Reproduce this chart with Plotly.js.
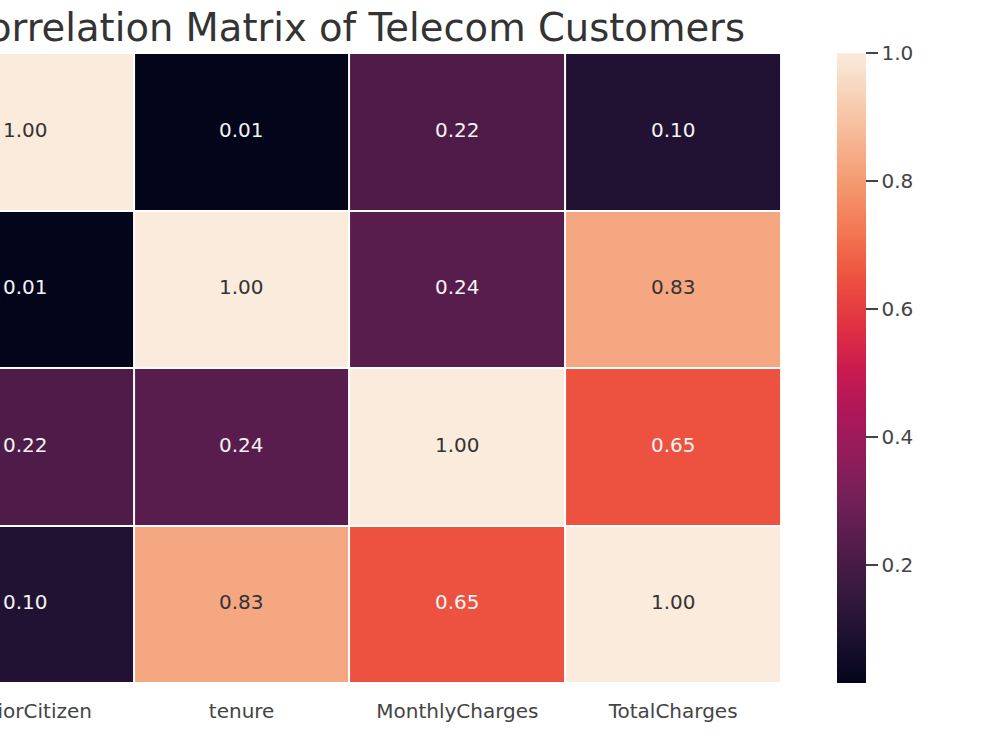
<!DOCTYPE html>
<html>
<head>
<meta charset="utf-8">
<script src="https://cdn.plot.ly/plotly-3.0.1.min.js"></script>
<style>html,body{margin:0;padding:0;background:#fff;}#chart{width:1000px;height:751px;}</style>
</head>
<body>
<div id="chart"></div>
<script>
const categories = ["SeniorCitizen", "tenure", "MonthlyCharges", "TotalCharges"];
const row0 = [1.00, 0.01, 0.22, 0.10];
const row1 = [0.01, 1.00, 0.24, 0.83];
const row2 = [0.22, 0.24, 1.00, 0.65];
const row3 = [0.10, 0.83, 0.65, 1.00];
const colorbarTicks = [0.2, 0.4, 0.6, 0.8, 1.0];
const titleText = "Correlation Matrix of Telecom Customers";

const z = [row0, row1, row2, row3];

const rocket = [
  [0.0, "#03051a"],
  [0.0714, "#1c1030"],
  [0.1429, "#35193e"],
  [0.2143, "#521c4b"],
  [0.2857, "#701f57"],
  [0.3571, "#8f1d5a"],
  [0.4286, "#ad1759"],
  [0.5, "#cb1b4f"],
  [0.5714, "#e13342"],
  [0.6429, "#ed5140"],
  [0.7143, "#f37651"],
  [0.7857, "#f4966d"],
  [0.8571, "#f6b48f"],
  [0.9286, "#f8d0b6"],
  [1.0, "#faebdd"]
];

const annotations = [];
z.forEach((row, i) => {
  row.forEach((v, j) => {
    annotations.push({
      x: categories[j], y: categories[i], xref: "x", yref: "y",
      text: v.toFixed(2), showarrow: false, yshift: 2,
      font: {family: "DejaVu Sans", size: 20, color: v > 0.75 ? "#333333" : "#f4f4f4"}
    });
  });
});

const trace = {
  type: "heatmap",
  x: categories,
  y: categories,
  z: z,
  colorscale: rocket,
  zmin: 0.016,
  zmax: 1.0,
  xgap: 2,
  ygap: 2,
  hoverinfo: "skip",
  colorbar: {
    x: 837/781, xanchor: "left", xref: "paper",
    y: 0.5, yanchor: "middle", len: 1, lenmode: "fraction",
    thickness: 29, thicknessmode: "pixels",
    xpad: 0, ypad: 0, outlinewidth: 0,
    tickvals: colorbarTicks, ticktext: colorbarTicks.map(v => v.toFixed(1)),
    ticks: "outside", ticklen: 12, tickwidth: 1.5, tickcolor: "#444444",
    tickfont: {family: "DejaVu Sans", size: 20, color: "#444444"}
  }
};

const layout = {
  width: 1000, height: 751,
  margin: {l: 0, r: 219, t: 53, b: 68, pad: 0},
  paper_bgcolor: "#ffffff", plot_bgcolor: "#ffffff",
  title: {
    text: titleText,
    font: {family: "DejaVu Sans", size: 38.5, color: "#333333"},
    x: 353/781, xref: "paper", xanchor: "center",
    y: 1 - 28/751, yref: "container", yanchor: "middle"
  },
  xaxis: {
    type: "category",
    range: [-0.12, 3.5],
    showgrid: false, zeroline: false, showline: false, ticks: "",
    ticklabelstandoff: 14,
    tickfont: {family: "DejaVu Sans", size: 20, color: "#444444"},
    fixedrange: true
  },
  yaxis: {
    type: "category",
    autorange: "reversed",
    showgrid: false, zeroline: false, showline: false, ticks: "",
    showticklabels: false, fixedrange: true
  },
  annotations: annotations,
  showlegend: false
};

Plotly.newPlot("chart", [trace], layout, {displayModeBar: false, staticPlot: true});
</script>
</body>
</html>
